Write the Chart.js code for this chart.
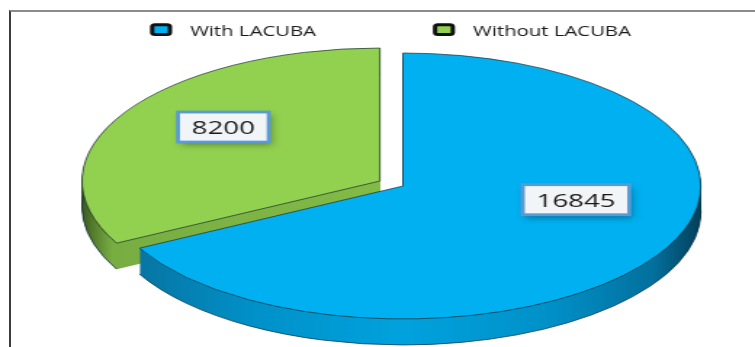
<!DOCTYPE html>
<html>
<head>
<meta charset="utf-8">
<script src="https://cdn.jsdelivr.net/npm/chart.js@4.4.1/dist/chart.umd.min.js"></script>
<style>
  html, body { margin: 0; padding: 0; background: #fff; overflow: hidden; }
  #wrap { position: relative; width: 755px; height: 347px; overflow: hidden; }
  #myChart { position: absolute; left: 0; top: 0; }
  #frame { position: absolute; left: 9px; top: 10px; width: 800px; height: 400px;
           border-left: 2px solid #3c3c3c; border-top: 2px solid #8c8c8c; }
</style>
</head>
<body>
<div id="wrap">
  <div id="frame"></div>
  <!-- drawn narrow and stretched wide, like the original picture -->
  <canvas id="myChart" width="520" height="347" style="width:755px;height:347px"></canvas>
</div>
<script>
var categories = ['With LACUBA', 'Without LACUBA'];
var values = [16845, 8200];
var sliceColors = ['#00b0f0', '#92d050'];

// draws the pie tilted, with a thickness, then the value boxes and the legend
var pie3d = {
	id: 'pie3d',
	beforeDatasetDraw: function(chart, args, opts) {
		var ctx = chart.ctx;
		var arcs = args.meta.data;
		var k = opts.tilt;
		var cx = arcs[0].x, cy = arcs[0].y;
		var i, d;

		ctx.save();
		ctx.translate(cx, cy);
		ctx.scale(1, k);
		ctx.translate(-cx, -cy);

		// sides, back slice first
		for (i = arcs.length - 1; i >= 0; i--) {
			var a = arcs[i];
			var ox = a.x + opts.explode[i][0];
			var oy = a.y + opts.explode[i][1] / k;
			var g = ctx.createLinearGradient(ox - a.outerRadius, 0, ox + a.outerRadius, 0);
			opts.sideStops[i].forEach(function(s) { g.addColorStop(s[0], s[1]); });
			ctx.fillStyle = g;
			for (d = opts.depth; d > 0; d--) {
				ctx.beginPath();
				ctx.moveTo(ox, oy + d / k);
				ctx.arc(ox, oy + d / k, a.outerRadius, a.startAngle, a.endAngle);
				ctx.closePath();
				ctx.fill();
			}
			ctx.beginPath();
			ctx.arc(ox, oy + opts.depth / k, a.outerRadius, a.startAngle, a.endAngle);
			ctx.strokeStyle = opts.edgeColor;
			ctx.lineWidth = 1;
			ctx.stroke();
		}

		// top faces, drawn by the library
		for (i = 0; i < arcs.length; i++) {
			ctx.save();
			ctx.translate(opts.explode[i][0], opts.explode[i][1] / k);
			arcs[i].draw(ctx, chart.chartArea);
			ctx.restore();
		}
		ctx.restore();
		return false;
	},
	afterDatasetsDraw: function(chart, args, opts) {
		var ctx = chart.ctx;
		var arcs = chart.getDatasetMeta(0).data;
		var k = opts.tilt;
		ctx.save();
		ctx.font = opts.labelFont;
		arcs.forEach(function(a, i) {
			var lp = opts.labelPos[i];
			var ang = (a.startAngle + a.endAngle) / 2 + lp.turn * Math.PI / 180;
			var x = a.x + opts.explode[i][0] + Math.cos(ang) * a.outerRadius * lp.r;
			var y = a.y + opts.explode[i][1] + Math.sin(ang) * a.outerRadius * lp.r * k;
			var txt = String(chart.data.datasets[0].data[i]);
			var w = ctx.measureText(txt).width + 19, h = 30;

			ctx.shadowColor = 'rgba(0,0,0,0.35)';
			ctx.shadowBlur = 6;
			ctx.shadowOffsetX = 2;
			ctx.shadowOffsetY = 3;
			ctx.fillStyle = '#f2f5f7';
			ctx.fillRect(x - w / 2, y - h / 2, w, h);
			ctx.shadowColor = 'transparent';
			ctx.strokeStyle = '#5b9bd5';
			ctx.lineWidth = 2.8;
			ctx.strokeRect(x - w / 2, y - h / 2, w, h);

			ctx.fillStyle = '#1a1a1a';
			ctx.textAlign = 'center';
			ctx.textBaseline = 'alphabetic';
			ctx.fillText(txt, x, y + 7);
		});
		ctx.restore();
	},
	afterDraw: function(chart, args, opts) {
		var ctx = chart.ctx;
		var lg = opts.legend;
		var colors = chart.data.datasets[0].backgroundColor;
		var x = lg.x;
		ctx.save();
		ctx.font = lg.font;
		chart.data.labels.forEach(function(label, i) {
			ctx.beginPath();
			ctx.roundRect(x, lg.y, lg.boxW, lg.boxH, 2);
			ctx.fillStyle = colors[i];
			ctx.fill();
			ctx.lineWidth = 3;
			ctx.strokeStyle = '#111';
			ctx.stroke();
			var tx = x + lg.boxW + lg.gap;
			ctx.fillStyle = '#1a1a1a';
			ctx.textAlign = 'left';
			ctx.textBaseline = 'alphabetic';
			ctx.fillText(label, tx, lg.baseline);
			x = tx + ctx.measureText(label).width + lg.itemGap;
		});
		ctx.restore();
	}
};

var ctx = document.getElementById('myChart').getContext('2d');
var chart = new Chart(ctx, {
	type: 'pie',
	data: {
		labels: categories,
		datasets: [{
			data: values,
			backgroundColor: sliceColors,
			borderColor: 'rgba(25,45,50,0.85)',
			borderWidth: 1
		}]
	},
	options: {
		responsive: false,
		animation: false,
		radius: 205.2,
		layout: { padding: { left: 35, top: 25, right: 0, bottom: 0 } },
		plugins: {
			legend: { display: false },
			tooltip: { enabled: false },
			pie3d: {
				tilt: 0.648,
				depth: 26,
				explode: [[0, 0], [-15.8, -5]],
				edgeColor: 'rgba(10,50,70,0.9)',
				sideStops: [
					[[0, '#0a6d98'], [0.25, '#0091c9'], [0.5, '#00a2de'], [0.75, '#0090c8'], [0.92, '#03709d'], [1, '#043f5a']],
					[[0, '#3d5a1f'], [0.02, '#567f2d'], [0.05, '#78ad42'], [0.5, '#82bb47'], [1, '#82bb47']]
				],
				labelFont: '19px "Open Sans"',
				labelPos: [{ r: 0.59, turn: -21 }, { r: 0.664, turn: 6.6 }],
				legend: {
					x: 104.8, y: 24.8, boxW: 12.2, boxH: 9.7, gap: 13.9, itemGap: 82,
					baseline: 36, font: '14px "Open Sans"'
				}
			}
		}
	},
	plugins: [pie3d]
});
</script>
</body>
</html>
